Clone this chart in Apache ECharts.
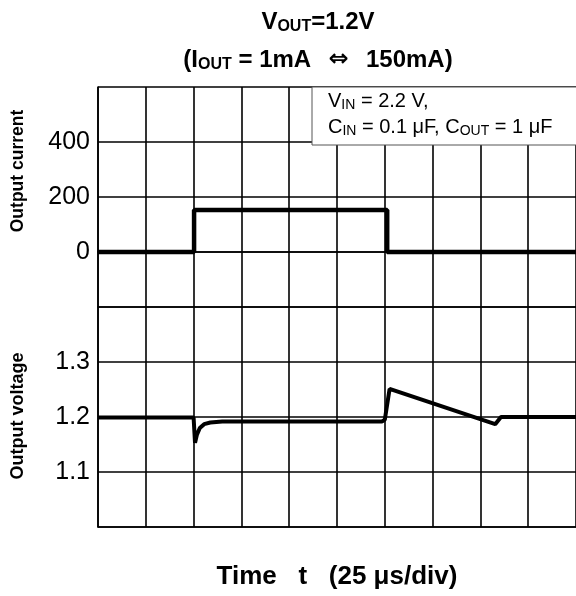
<!DOCTYPE html>
<html>
<head>
<meta charset="utf-8">
<style>
  html, body { margin: 0; padding: 0; background: #fff; }
  #chart { width: 576px; height: 596px; }
</style>
<script src="https://cdn.jsdelivr.net/npm/echarts@6/dist/echarts.min.js"></script>
</head>
<body>
<div id="chart"></div>
<script>
  // time in divisions (25 us/div)
  const timeMin = 0;
  const timeMax = 10;
  // output current, mA
  const currentTime = [0, 2.01, 2.01, 6.05, 6.05, 10];
  const currentVals = [0, 0, 153, 153, 0, 0];
  const currentTicks = [0, 200, 400];
  // output voltage, V
  const voltTime = [0, 2.0, 2.03, 2.07, 2.13, 2.22, 2.35, 2.6, 3.5, 5.94, 6.0, 6.1, 8.31, 8.43, 10];
  const voltVals = [1.199, 1.199, 1.153, 1.168, 1.18, 1.187, 1.19, 1.192, 1.192, 1.192, 1.195, 1.251, 1.187, 1.2, 1.2];
  const voltTicks = [1.1, 1.2, 1.3];

  const FONT = "'Liberation Sans', Arial, sans-serif";
  const chart = echarts.init(document.getElementById('chart'));

  const zip = (xs, ys) => xs.map((x, i) => [x, ys[i]]);
  const gridLine = { show: true, lineStyle: { color: '#000', width: 1.6 } };

  const xAxisBase = (gi) => ({
    type: 'value', gridIndex: gi, min: timeMin, max: timeMax, interval: 1,
    axisLabel: { show: false }, axisTick: { show: false },
    axisLine: { show: true, lineStyle: { color: '#000', width: 1.6 } },
    splitLine: gridLine
  });

  const titleRich = {
    m: { fontSize: 24, fontWeight: 'bold', fontFamily: FONT, fill: '#000' },
    a: { fontSize: 24, fontWeight: 'bold', fontFamily: "'DejaVu Sans', sans-serif", fill: '#000', padding: [0, 4, 0, 4] },
    s: { fontSize: 16, fontWeight: 'bold', fontFamily: FONT, fill: '#000', padding: [10, 0, 0, 0] }
  };
  const boxRich = {
    m: { fontSize: 20, fontFamily: FONT, fill: '#000' },
    s: { fontSize: 14, fontFamily: FONT, fill: '#000', padding: [7, 0, 0, 0] }
  };

  const option = {
    animation: false,
    backgroundColor: '#fff',
    grid: [
      { left: 98, top: 87, width: 480, height: 220 },
      { left: 98, top: 307, width: 480, height: 220 }
    ],
    xAxis: [xAxisBase(0), xAxisBase(1)],
    yAxis: [{
      type: 'value', gridIndex: 0, min: -200, max: 600, interval: 200,
      axisTick: { show: false },
      axisLine: { show: true, lineStyle: { color: '#000', width: 1.6 } },
      splitLine: gridLine,
      axisLabel: {
        margin: 8, fontSize: 25, color: '#000', fontFamily: FONT,
        formatter: function (v) {
          let r = Math.round(v);
          return currentTicks.indexOf(r) >= 0 ? String(r) : '';
        }
      }
    }, {
      type: 'value', gridIndex: 1, min: 1.0, max: 1.4, interval: 0.1,
      axisTick: { show: false },
      axisLine: { show: true, lineStyle: { color: '#000', width: 1.6 } },
      splitLine: gridLine,
      axisLabel: {
        margin: 8, fontSize: 25, color: '#000', fontFamily: FONT,
        formatter: function (v) {
          let r = Math.round(v * 10) / 10;
          return voltTicks.indexOf(r) >= 0 ? r.toFixed(1) : '';
        }
      }
    }],
    series: [{
      type: 'line', xAxisIndex: 0, yAxisIndex: 0,
      data: zip(currentTime, currentVals),
      symbol: 'none', lineStyle: { color: '#000', width: 4.5 }, z: 5
    }, {
      type: 'line', xAxisIndex: 1, yAxisIndex: 1,
      data: zip(voltTime, voltVals),
      symbol: 'none', lineStyle: { color: '#000', width: 4 }, z: 5
    }],
    graphic: [
      // title
      {
        type: 'text', x: 318, y: 9, z: 10,
        style: { text: '{m|V}{s|OUT}{m|=1.2V}', rich: titleRich, align: 'center' }
      },
      {
        type: 'text', x: 318, y: 47, z: 10,
        style: { text: '{m|(I}{s|OUT}{m| = 1mA  }{a|⇔}{m|  150mA)}', rich: titleRich, align: 'center' }
      },
      // conditions box
      {
        type: 'rect', z: 20,
        shape: { x: 312, y: 87, width: 290, height: 58 },
        style: { fill: '#fff', stroke: '#555', lineWidth: 1 }
      },
      {
        type: 'text', z: 21, x: 328, y: 91,
        style: { text: '{m|V}{s|IN}{m| = 2.2 V,}', rich: boxRich }
      },
      {
        type: 'text', z: 21, x: 328, y: 117,
        style: { text: '{m|C}{s|IN}{m| = 0.1 μF, C}{s|OUT}{m| = 1 μF}', rich: boxRich }
      },
      // axis names
      {
        type: 'text', z: 10, x: 18, y: 171, rotation: Math.PI / 2,
        style: {
          text: 'Output current', fontSize: 17.5, fontWeight: 'bold', fontFamily: FONT,
          fill: '#000', align: 'center', verticalAlign: 'middle'
        }
      },
      {
        type: 'text', z: 10, x: 18, y: 416, rotation: Math.PI / 2,
        style: {
          text: 'Output voltage', fontSize: 18, fontWeight: 'bold', fontFamily: FONT,
          fill: '#000', align: 'center', verticalAlign: 'middle'
        }
      },
      {
        type: 'text', z: 10, x: 337, y: 577,
        style: {
          text: 'Time   t   (25 μs/div)', fontSize: 26, fontWeight: 'bold', fontFamily: FONT,
          fill: '#000', align: 'center', verticalAlign: 'middle'
        }
      }
    ]
  };
  chart.setOption(option);
</script>
</body>
</html>
